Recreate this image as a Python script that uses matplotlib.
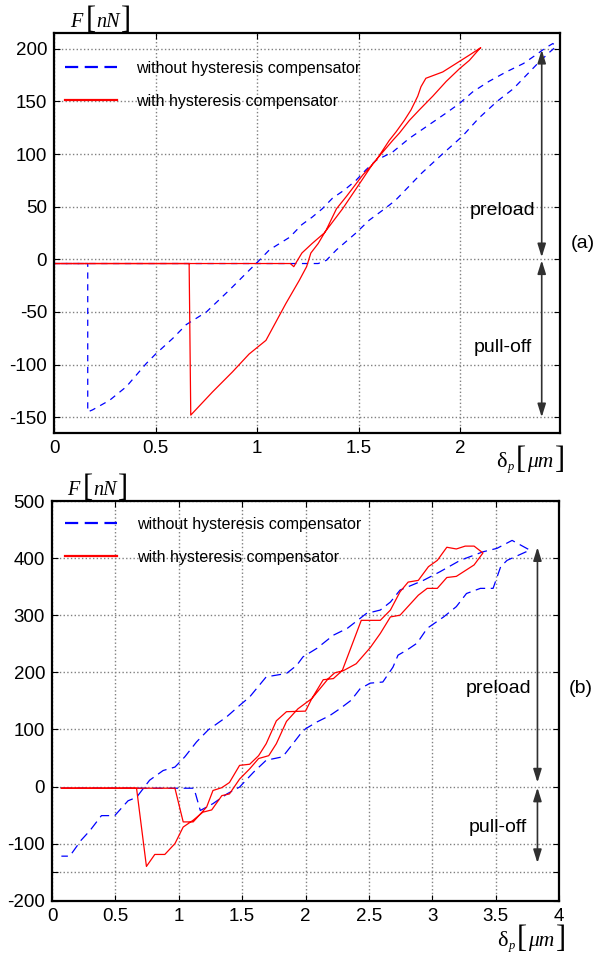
import matplotlib.pyplot as plt

plt.rcParams['font.family'] = ['Liberation Sans', 'DejaVu Sans']
plt.rcParams['lines.scale_dashes'] = False
plt.rcParams['axes.unicode_minus'] = False

W, H = 595, 958

# ---- panel (a) data ----
a_blue_x = [0, 1.27, 1.30, 1.34, 1.39, 1.486, 1.55, 1.62, 1.68, 1.81, 1.90, 2.01, 2.09, 2.18,
            2.26, 2.32, 2.39, 2.44, 2.47, 2.455, 2.42, 2.37, 2.31, 2.225, 2.14, 2.06, 1.995,
            1.93, 1.847, 1.749, 1.667, 1.585, 1.535, 1.486, 1.43, 1.37, 1.32, 1.27, 1.22, 1.16,
            1.11, 1.06, 1.01, 0.947, 0.864, 0.75, 0.651, 0.585, 0.5, 0.454, 0.356, 0.273, 0.19,
            0.166, 0.166, 0]
a_blue_y = [-4, -4, -4, -1, 9, 25, 37, 47, 56, 82, 98, 117, 134, 150,
            162, 174, 188, 197, 202, 205, 201, 194, 186, 178, 169, 159, 148,
            139, 128, 115, 102, 94, 85, 75, 66, 58, 48, 40, 33, 21,
            15, 9, -1, -13, -29, -50, -62, -75, -90, -99, -121, -134, -143,
            -145, -4, -4]

a_red_x = [0, 1.163, 1.18, 1.195, 1.22, 1.27, 1.33, 1.42, 1.49, 1.57, 1.667, 1.70, 1.749,
           1.798, 1.864, 1.93, 1.995, 2.044, 2.094, 2.10, 2.044, 1.995, 1.913, 1.83, 1.806,
           1.79, 1.757, 1.724, 1.683, 1.65, 1.585, 1.519, 1.44, 1.39, 1.34, 1.30, 1.264,
           1.243, 1.207, 1.141, 1.043, 0.96, 0.878, 0.78, 0.673, 0.665, 0]
a_red_y = [-4, -4, -7, -2, 6, 15, 25, 48, 68, 91, 113, 120, 132,
           142, 155, 169, 181, 189, 200, 201, 194, 188, 178, 172, 164,
           155, 142, 132, 121, 113, 94, 80, 60, 48, 28, 15, 6,
           -7, -20, -42, -77, -90, -107, -126, -148, -4, -4]

# ---- panel (b) data ----
b_blue_x = [0.074, 1.12, 1.17, 1.27, 1.38, 1.48, 1.59, 1.69, 1.82, 1.88, 1.96, 2.0, 2.09,
            2.19, 2.27, 2.36, 2.43, 2.51, 2.61, 2.69, 2.73, 2.80, 2.88, 2.96, 3.09, 3.19,
            3.27, 3.38, 3.48, 3.54, 3.59, 3.77, 3.63, 3.51, 3.40, 3.22, 3.06, 2.93, 2.746,
            2.67, 2.59, 2.48, 2.33, 2.22, 2.09, 1.98, 1.93, 1.85, 1.69, 1.56, 1.48, 1.378,
            1.232, 1.14, 1.048, 0.97, 0.877, 0.77, 0.667, 0.60, 0.495, 0.39, 0.30, 0.23,
            0.14, 0.074]
b_blue_y = [-3, -3, -42, -30, -13, -1, 25, 46, 52, 69, 92, 101, 113,
            124, 136, 151, 171, 181, 183, 209, 230, 239, 251, 277, 297, 315,
            338, 347, 347, 385, 396, 414, 431, 417, 411, 396, 376, 361, 344,
            323, 309, 303, 277, 265, 242, 227, 212, 198, 192, 157, 142, 122,
            99, 78, 52, 34, 28, 11, -19, -25, -51, -51, -77, -94,
            -122, -122]

b_red_x = [0.074, 0.97, 1.035, 1.114, 1.22, 1.27, 1.34, 1.40, 1.48, 1.56, 1.63, 1.69, 1.77,
           1.85, 2.0, 2.05, 2.14, 2.22, 2.29, 2.44, 2.59, 2.67, 2.746, 2.81, 2.89, 2.97,
           3.04, 3.115, 3.19, 3.26, 3.33, 3.40, 3.33, 3.19, 3.115, 3.04, 2.96, 2.89, 2.746,
           2.67, 2.59, 2.51, 2.40, 2.30, 2.23, 2.18, 2.05, 1.94, 1.85, 1.77, 1.71, 1.63,
           1.56, 1.48, 1.40, 1.34, 1.26, 1.19, 1.114, 1.035, 0.97, 0.89, 0.811, 0.745,
           0.667, 0.074]
b_red_y = [-3, -3, -62, -62, -36, -7, -2, 7, 37, 39, 54, 75, 115,
           131, 132, 154, 187, 189, 203, 291, 291, 309, 341, 358, 361, 385,
           396, 419, 416, 421, 421, 409, 388, 368, 366, 347, 347, 335, 300,
           297, 268, 243, 215, 203, 199, 189, 154, 136, 114, 75, 54, 49,
           31, 13, -13, -16, -41, -45, -59, -71, -100, -119, -119, -140,
           -3, -3]

labels = ['without hysteresis compensator', 'with hysteresis compensator']


def style_axes(ax):
    for s in ax.spines.values():
        s.set_linewidth(1.6)
    ax.tick_params(direction='in', top=True, right=True, length=4.5, width=0.8,
                   labelsize=13.5, pad=5)
    ax.grid(True, linestyle=':', color='#808080', linewidth=1.0)
    ax.set_axisbelow(True)


def ftext(x, y, s, **kw):
    fig.text(x / W, 1 - y / H, s, va='baseline', ha='left', **kw)


def axis_labels(fx, fy, dx, dy):
    ser = 'Liberation Serif'
    ftext(fx, fy, 'F', family=ser, style='italic', fontsize=14.5)
    ftext(fx + 16, fy + 1, '[', family=ser, fontsize=22)
    ftext(fx + 26, fy, 'nN', family=ser, style='italic', fontsize=14.5)
    ftext(fx + 51, fy + 1, ']', family=ser, fontsize=22)
    ftext(dx, dy, 'δ', family=ser, fontsize=16)
    ftext(dx + 12, dy + 3, 'p', family=ser, style='italic', fontsize=9)
    ftext(dx + 20, dy + 1, '[', family=ser, fontsize=22)
    ftext(dx + 31, dy, 'μm', family=ser, style='italic', fontsize=15.5)
    ftext(dx + 59, dy + 1, ']', family=ser, fontsize=22)


def arrow(ax, x, y0, y1):
    ax.annotate('', xy=(x, y1), xytext=(x, y0),
                arrowprops=dict(arrowstyle='<|-|>,head_length=0.8,head_width=0.25',
                                color='#303030', lw=1.2, mutation_scale=10,
                                shrinkA=0, shrinkB=0))


fig = plt.figure(figsize=(W / 100, H / 100), dpi=100)

# ---------- panel (a) ----------
ax1 = fig.add_axes([54 / W, 1 - 433 / H, 506 / W, 400 / H])
ax1.plot(a_blue_x, a_blue_y, color='#0000ff', lw=0.9, dashes=(4.5, 4), label=labels[0])
ax1.plot(a_red_x, a_red_y, color='#ff0000', lw=0.9, label=labels[1])
ax1.set_xlim(0, 2.49)
ax1.set_ylim(-165, 215)
ax1.set_xticks([0, 0.5, 1, 1.5, 2])
ax1.set_xticklabels(['0', '0.5', '1', '1.5', '2'])
ax1.set_yticks([-150, -100, -50, 0, 50, 100, 150, 200])
style_axes(ax1)
leg1 = ax1.legend(loc='upper left', bbox_to_anchor=(0.021, 0.93), frameon=False,
                  fontsize=11.5, handlelength=3.3, handletextpad=1.2, labelspacing=1.1,
                  borderpad=0, borderaxespad=0)
arrow(ax1, 2.40, 2, 199)
arrow(ax1, 2.40, -1, -150)
ax1.text(2.207, 46, 'preload', fontsize=14, ha='center', va='center')
ax1.text(2.207, -84, 'pull-off', fontsize=14, ha='center', va='center')
ax1.text(2.60, 15, '(a)', fontsize=14, ha='center', va='center', clip_on=False)

# ---------- panel (b) ----------
ax2 = fig.add_axes([52 / W, 1 - 900.7 / H, 507 / W, 399.7 / H])
ax2.plot(b_blue_x, b_blue_y, color='#0000ff', lw=0.9, dashes=(7, 4), label=labels[0])
ax2.plot(b_red_x, b_red_y, color='#ff0000', lw=0.9, label=labels[1])
ax2.set_xlim(0, 4)
ax2.set_ylim(-200, 500)
ax2.set_xticks([0, 0.5, 1, 1.5, 2, 2.5, 3, 3.5, 4])
ax2.set_xticklabels(['0', '0.5', '1', '1.5', '2', '2.5', '3', '3.5', '4'])
ax2.set_yticks([-200, -150, -100, 0, 100, 200, 300, 400, 500])
ax2.set_yticklabels(['-200', '', '-100', '0', '100', '200', '300', '400', '500'])
style_axes(ax2)
leg2 = ax2.legend(loc='upper left', bbox_to_anchor=(0.025, 0.96), frameon=False,
                  fontsize=11.5, handlelength=3.3, handletextpad=1.2, labelspacing=1.1,
                  borderpad=0, borderaxespad=0)
arrow(ax2, 3.83, 7, 419)
arrow(ax2, 3.83, -2, -134)
ax2.text(3.52, 172, 'preload', fontsize=14, ha='center', va='center')
ax2.text(3.52, -72, 'pull-off', fontsize=14, ha='center', va='center')
ax2.text(4.17, 172, '(b)', fontsize=14, ha='center', va='center', clip_on=False)

for leg in (leg1, leg2):
    lines = leg.get_lines()
    lines[0].set_linewidth(1.6)
    lines[0].set_dashes((9.5, 4.7))
    lines[1].set_linewidth(1.6)

axis_labels(70, 27, 496, 467)
axis_labels(67, 495, 497, 946)

fig.savefig('out.png', dpi=100)
